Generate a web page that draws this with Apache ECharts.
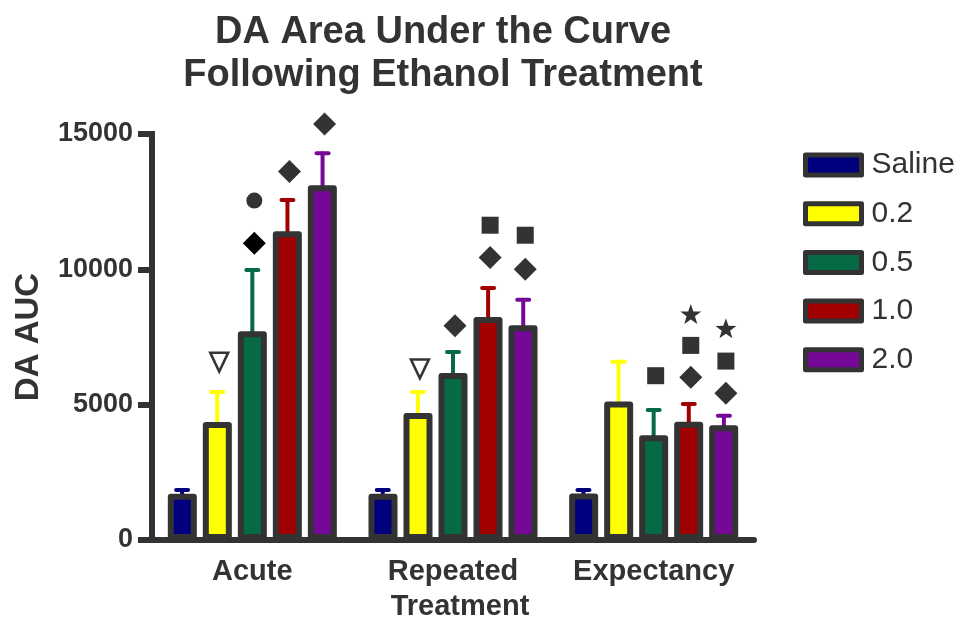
<!DOCTYPE html>
<html><head><meta charset="utf-8">
<script src="https://cdn.jsdelivr.net/npm/echarts@6/dist/echarts.min.js"></script>
<style>html,body{margin:0;padding:0;background:#fff}#c{width:962px;height:618px}</style>
</head><body><div id="c"></div>
<script>
// ---- data ----
const categories = ['Acute', 'Repeated', 'Expectancy'];
const doseNames = ['Saline', '0.2', '0.5', '1.0', '2.0'];
const salineMean = [1710, 1710, 1720];
const salineErr  = [140, 140, 130];
const dose02Mean = [4360, 4690, 5120];
const dose02Err  = [1110, 780, 1470];
const dose05Mean = [7710, 6170, 3870];
const dose05Err  = [2265, 775, 935];
const dose10Mean = [11410, 8240, 4370];
const dose10Err  = [1150, 1070, 655];
const dose20Mean = [13110, 7930, 4240];
const dose20Err  = [1180, 950, 355];
const yTicks = [0, 5000, 10000, 15000];
// significance symbols
const markerDose  = [1, 2, 2, 3, 4,   1, 2, 3, 3, 4, 4,   2, 3, 3, 3, 4, 4, 4];
const markerCat   = [0, 0, 0, 0, 0,   1, 1, 1, 1, 1, 1,   2, 2, 2, 2, 2, 2, 2];
const markerShape = ['triangleDown', 'circle', 'diamond', 'diamond', 'diamond',
                     'triangleDown', 'diamond', 'square', 'diamond', 'square', 'diamond',
                     'square', 'star', 'square', 'diamond', 'star', 'square', 'diamond'];
const markerValue = [6590, 12540, 10960, 13610, 15370,
                     6340, 7920, 11630, 10440, 11260, 10000,
                     6070, 8350, 7190, 6010, 7820, 6610, 5420];

// ---- styles ----
const doseColors = ['#00007F', '#FFFF00', '#066A45', '#A00000', '#760898'];
const ink = '#333333';
const blackMarkers = [2];
const FONT = 'Liberation Sans, Arial, sans-serif';

const means = [salineMean, dose02Mean, dose05Mean, dose10Mean, dose20Mean];
const errs = [salineErr, dose02Err, dose05Err, dose10Err, dose20Err];

function barCenterX(api, cat, dose) {
  const band = api.size([1, 0])[0];
  return api.coord([cat, 0])[0] + (dose - 2) * band * 0.175;
}

const errData = [];
means.forEach((m, d) => m.forEach((v, c) => errData.push([c, v, errs[d][c], d])));

const markerData = markerValue.map((v, i) => [markerCat[i], v]);

function starPoints(cx, cy, R, r) {
  const pts = [];
  for (let k = 0; k < 10; k++) {
    const ang = -Math.PI / 2 + k * Math.PI / 5;
    const rad = k % 2 === 0 ? R : r;
    pts.push([cx + rad * Math.cos(ang), cy + rad * Math.sin(ang)]);
  }
  return pts;
}

const series = doseNames.map((name, d) => ({
  type: 'bar',
  name: name,
  data: means[d],
  barWidth: 29,
  barGap: '20.7%',
  z: 3,
  itemStyle: { color: doseColors[d], borderColor: ink, borderWidth: 6, borderJoin: 'round' }
}));

series.push({
  type: 'custom',
  name: 'errors',
  z: 2,
  data: errData,
  encode: { x: 0, y: 1 },
  renderItem: function (params, api) {
    const c = api.value(0), m = api.value(1), e = api.value(2), d = api.value(3);
    const x = barCenterX(api, c, d);
    const y0 = api.coord([c, m])[1] + 4;
    const y1 = api.coord([c, m + e])[1];
    const st = { stroke: doseColors[d], lineWidth: 4, lineCap: 'round' };
    return { type: 'group', children: [
      { type: 'line', shape: { x1: x, y1: y0, x2: x, y2: y1 }, style: st },
      { type: 'line', shape: { x1: x - 6, y1: y1, x2: x + 6, y2: y1 }, style: st }
    ]};
  }
});

series.push({
  type: 'custom',
  name: 'markers',
  z: 4,
  data: markerData,
  encode: { x: 0, y: 1 },
  renderItem: function (params, api) {
    const i = params.dataIndex;
    const c = api.value(0), v = api.value(1);
    const x = barCenterX(api, c, markerDose[i]) + 2;
    const y = api.coord([c, v])[1];
    const fill = blackMarkers.indexOf(i) >= 0 ? '#000' : ink;
    const shape = markerShape[i];
    if (shape === 'diamond') {
      return { type: 'polygon', shape: { points: [[x, y - 11.5], [x + 11.5, y], [x, y + 11.5], [x - 11.5, y]] }, style: { fill: fill } };
    } else if (shape === 'square') {
      return { type: 'rect', shape: { x: x - 8.5, y: y - 8.5, width: 17, height: 17 }, style: { fill: fill } };
    } else if (shape === 'circle') {
      return { type: 'circle', shape: { cx: x, cy: y, r: 8 }, style: { fill: fill } };
    } else if (shape === 'star') {
      return { type: 'polygon', shape: { points: starPoints(x, y + 1, 11, 4.4) }, style: { fill: fill } };
    } else {
      return { type: 'polygon', shape: { points: [[x - 9, y - 9], [x + 9, y - 9], [x, y + 10]] }, style: { fill: 'none', stroke: fill, lineWidth: 2.5, lineJoin: 'miter' } };
    }
  }
});

const chart = echarts.init(document.getElementById('c'), null, { renderer: 'canvas' });
chart.setOption({
  animation: false,
  backgroundColor: '#fff',
  title: {
    text: 'DA Area Under the Curve\nFollowing Ethanol Treatment',
    left: 443, top: 11, padding: 0, textAlign: 'center',
    textStyle: { fontFamily: FONT, fontSize: 38, fontWeight: 'bold', color: ink, lineHeight: 43 }
  },
  legend: {
    data: doseNames,
    orient: 'vertical',
    left: 803, top: 150, padding: 0,
    itemWidth: 56, itemHeight: 20, itemGap: 18.7,
    icon: 'rect',
    itemStyle: { borderColor: ink, borderWidth: 5 },
    textStyle: { fontFamily: FONT, fontSize: 30, color: ink, padding: [0, 0, 0, 5] }
  },
  grid: { left: 152, top: 134, width: 602, height: 406, containLabel: false, outerBoundsMode: 'none' },
  xAxis: {
    type: 'category',
    data: categories,
    name: 'Treatment',
    nameLocation: 'middle',
    nameGap: 52,
    nameTextStyle: { fontFamily: FONT, fontSize: 29, fontWeight: 'bold', color: ink, padding: [0, 0, 0, 14] },
    axisLine: { lineStyle: { color: ink, width: 6, cap: 'round' } },
    axisTick: { show: false },
    axisLabel: { interval: 0, hideOverlap: false, fontFamily: FONT, fontSize: 29, fontWeight: 'bold', color: ink, margin: 17 },
    splitLine: { show: false }
  },
  yAxis: {
    type: 'value',
    min: yTicks[0], max: yTicks[yTicks.length - 1], interval: yTicks[1] - yTicks[0],
    name: 'DA AUC',
    nameLocation: 'middle',
    nameGap: 107,
    nameTextStyle: { fontFamily: FONT, fontSize: 33, fontWeight: 'bold', color: ink },
    axisLine: { show: true, lineStyle: { color: ink, width: 6, cap: 'square' } },
    axisTick: { show: true, length: 14, lineStyle: { color: ink, width: 6 } },
    axisLabel: { fontFamily: FONT, fontSize: 27, fontWeight: 'bold', color: ink, margin: 19, formatter: v => String(v) },
    splitLine: { show: false }
  },
  series: series
});
</script>
</body></html>
